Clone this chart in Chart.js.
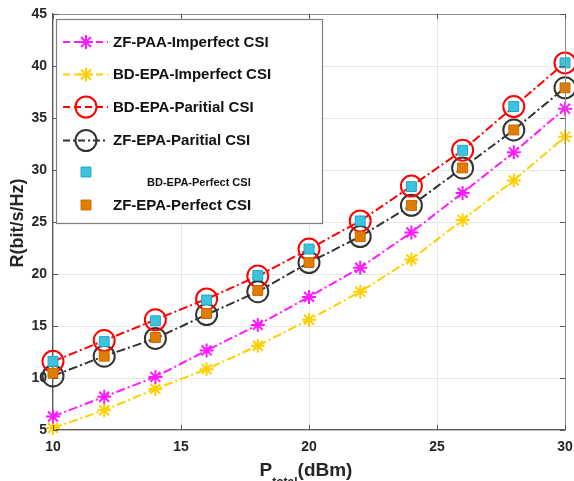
<!DOCTYPE html>
<html>
<head>
<meta charset="utf-8">
<script src="https://cdn.jsdelivr.net/npm/chart.js@4/dist/chart.umd.min.js"></script>
<style>
html,body{margin:0;padding:0;background:#fff;}
#wrap{position:relative;width:574px;height:481px;}
canvas{display:block;}
</style>
</head>
<body>
<div id="wrap"><canvas id="c" width="574" height="481"></canvas></div>
<script>
// ---- data ----
const powerDbm = [10, 12, 14, 16, 18, 20, 22, 24, 26, 28, 30];
const xTicks = [10, 15, 20, 25, 30];
const yTicks = [5, 10, 15, 20, 25, 30, 35, 40, 45];
const zfPaaImperfect = [6.3, 8.2, 10.1, 12.65, 15.1, 17.8, 20.6, 24.0, 27.8, 31.7, 35.9];
const bdEpaImperfect = [5.2, 6.9, 8.95, 10.85, 13.1, 15.6, 18.3, 21.4, 25.2, 29.0, 33.2];
const bdEpaPartial = [11.6, 13.6, 15.6, 17.6, 19.8, 22.4, 25.1, 28.45, 31.9, 36.1, 40.3];
const zfEpaPartial = [10.2, 12.1, 13.8, 16.1, 18.3, 21.1, 23.6, 26.6, 30.2, 33.85, 37.9];
const bdEpaPerfect = [11.6, 13.5, 15.5, 17.5, 19.85, 22.4, 25.1, 28.4, 31.9, 36.1, 40.3];
const zfEpaPerfect = [10.45, 12.1, 13.9, 16.2, 18.4, 21.1, 23.6, 26.6, 30.2, 33.85, 37.9];
const seriesNames = ['ZF-PAA-Imperfect CSI', 'BD-EPA-Imperfect CSI', 'BD-EPA-Paritial CSI',
  'ZF-EPA-Paritial CSI', 'BD-EPA-Perfect CSI', 'ZF-EPA-Perfect CSI'];

const pts = arr => arr.map((v, i) => ({x: powerDbm[i], y: v}));
const FONT = '"Liberation Sans", Arial, sans-serif';
const DASH = [9, 3, 2, 3];

const styles = [
  {color: '#ff1aff', pointStyle: 'star', radius: 7, bw: 2, fill: '#ff1aff', dash: DASH, line: true, order: 3},
  {color: '#ffd000', pointStyle: 'star', radius: 7, bw: 2, fill: '#ffd000', dash: DASH, line: true, order: 3},
  {color: '#ff0000', pointStyle: 'circle', radius: 10.5, bw: 2, fill: 'rgba(0,0,0,0)', dash: DASH, line: true, order: 2},
  {color: '#333333', pointStyle: 'circle', radius: 10.5, bw: 2, fill: 'rgba(0,0,0,0)', dash: DASH, line: true, order: 2},
  {color: '#1ea7c4', pointStyle: 'rect', radius: 7, bw: 1, fill: '#3ec3dc', dash: [], line: false, order: 1},
  {color: '#c96a00', pointStyle: 'rect', radius: 7, bw: 1, fill: '#e07c00', dash: [], line: false, order: 1}
];
const seriesData = [zfPaaImperfect, bdEpaImperfect, bdEpaPartial, zfEpaPartial, bdEpaPerfect, zfEpaPerfect];

const datasets = seriesData.map((d, i) => {
  const s = styles[i];
  return {
    label: seriesNames[i],
    data: pts(d),
    borderColor: s.color,
    backgroundColor: s.fill,
    borderWidth: 2,
    borderDash: s.dash,
    showLine: s.line,
    pointStyle: s.pointStyle,
    pointRadius: s.radius,
    pointBorderWidth: s.bw,
    pointBorderColor: s.color,
    pointBackgroundColor: s.fill,
    tension: 0,
    order: s.order,
    clip: false
  };
});

const extras = {
  id: 'extras',
  afterDatasetsDraw(chart) {
    const ctx = chart.ctx;
    const a = chart.chartArea;
    ctx.save();
    // top/right box lines
    ctx.strokeStyle = '#8c8c8c';
    ctx.lineWidth = 1;
    ctx.beginPath();
    ctx.moveTo(a.left, a.top + 0.5);
    ctx.lineTo(a.right + 0.5, a.top + 0.5);
    ctx.lineTo(a.right + 0.5, a.bottom);
    ctx.stroke();
    // inward ticks (MATLAB style)
    ctx.strokeStyle = '#555';
    const xs = chart.scales.x, ys = chart.scales.y;
    xTicks.forEach(t => {
      const px = Math.round(xs.getPixelForValue(t)) + 0.5;
      ctx.beginPath(); ctx.moveTo(px, a.bottom); ctx.lineTo(px, a.bottom - 5); ctx.stroke();
      ctx.beginPath(); ctx.moveTo(px, a.top); ctx.lineTo(px, a.top + 5); ctx.stroke();
    });
    yTicks.forEach(t => {
      const py = Math.round(ys.getPixelForValue(t)) + 0.5;
      ctx.beginPath(); ctx.moveTo(a.left, py); ctx.lineTo(a.left + 5, py); ctx.stroke();
      ctx.beginPath(); ctx.moveTo(a.right, py); ctx.lineTo(a.right - 5, py); ctx.stroke();
    });

    // legend box
    const L = 56.5, T = 19.5, R = 322.5, B = 223.5;
    ctx.fillStyle = '#ffffff';
    ctx.fillRect(L, T, R - L, B - T);
    ctx.strokeStyle = '#7f7f7f';
    ctx.lineWidth = 1.2;
    ctx.strokeRect(L, T, R - L, B - T);

    const rowsY = [42, 74.5, 107, 140.5, 172, 205];
    const mx = 86;
    for (let i = 0; i < 6; i++) {
      const s = styles[i];
      const y = rowsY[i];
      if (s.line) {
        ctx.save();
        ctx.strokeStyle = s.color;
        ctx.lineWidth = 2;
        ctx.setLineDash(i === 3 ? [7, 3, 2, 3] : [7, 4]);
        ctx.beginPath(); ctx.moveTo(63, y); ctx.lineTo(108, y); ctx.stroke();
        ctx.restore();
      }
      ctx.save();
      ctx.fillStyle = s.fill; ctx.strokeStyle = s.color; ctx.lineWidth = s.bw;
      ctx.setLineDash([]);
      ctx.beginPath();
      if (s.pointStyle === 'rect') {
        const h = s.radius * Math.SQRT1_2;
        ctx.rect(mx - h, y - h, 2 * h, 2 * h);
        ctx.fill(); ctx.stroke();
      } else if (s.pointStyle === 'circle') {
        ctx.arc(mx, y, s.radius, 0, Math.PI * 2);
        ctx.stroke();
      } else {
        const r = s.radius;
        ctx.moveTo(mx - r, y); ctx.lineTo(mx + r, y);
        ctx.moveTo(mx, y - r); ctx.lineTo(mx, y + r);
        const d = r * Math.SQRT1_2;
        ctx.moveTo(mx - d, y - d); ctx.lineTo(mx + d, y + d);
        ctx.moveTo(mx - d, y + d); ctx.lineTo(mx + d, y - d);
        ctx.stroke();
      }
      ctx.restore();
      ctx.fillStyle = '#111';
      ctx.textBaseline = 'middle';
      ctx.textAlign = 'left';
      if (i === 4) {
        ctx.font = 'bold 11px ' + FONT;
        ctx.fillText(seriesNames[i], 147, 183);
      } else {
        ctx.font = 'bold 15px ' + FONT;
        ctx.fillText(seriesNames[i], 113, y + 0.5);
      }
    }

    // y-axis title
    ctx.save();
    ctx.translate(18, 223);
    ctx.rotate(-Math.PI / 2);
    ctx.font = 'bold 18px ' + FONT;
    ctx.fillStyle = '#262626';
    ctx.textAlign = 'center';
    ctx.textBaseline = 'middle';
    ctx.fillText('R(bit/s/Hz)', 0, 0);
    ctx.restore();

    // x-axis title with subscript
    ctx.fillStyle = '#262626';
    ctx.textBaseline = 'alphabetic';
    ctx.textAlign = 'left';
    const big = 'bold 19px ' + FONT, small = 'bold 12px ' + FONT;
    ctx.font = big; const wP = ctx.measureText('P').width; const wD = ctx.measureText('(dBm)').width;
    ctx.font = small; const wT = ctx.measureText('total').width;
    let x0 = 306 - (wP + wT + wD) / 2;
    ctx.font = big; ctx.fillText('P', x0, 476);
    ctx.font = small; ctx.fillText('total', x0 + wP, 486);
    ctx.font = big; ctx.fillText('(dBm)', x0 + wP + wT, 476);
    ctx.restore();
  }
};

new Chart(document.getElementById('c'), {
  type: 'line',
  data: {datasets},
  plugins: [extras],
  options: {
    responsive: false,
    devicePixelRatio: 1,
    animation: false,
    layout: {autoPadding: false, padding: {left: 0, right: 0, top: 0, bottom: 0}},
    plugins: {legend: {display: false}, tooltip: {enabled: false}, title: {display: false}},
    scales: {
      x: {
        type: 'linear', min: 10, max: 30,
        afterFit(s) { s.height = 51; s.paddingRight = 9; s.paddingLeft = 0; },
        afterBuildTicks(s) { s.ticks = xTicks.map(v => ({value: v})); },
        grid: {color: '#e6e6e6', lineWidth: 1, drawTicks: false},
        border: {color: '#595959', width: 1.3},
        ticks: {padding: 9, color: '#262626', font: {family: FONT, size: 14, weight: 'bold'}, maxRotation: 0}
      },
      y: {
        type: 'linear', min: 5, max: 45,
        afterFit(s) { s.width = 53; s.paddingTop = 14; s.paddingBottom = 0; },
        afterBuildTicks(s) { s.ticks = yTicks.map(v => ({value: v})); },
        grid: {color: '#e6e6e6', lineWidth: 1, drawTicks: false},
        border: {color: '#595959', width: 1.3},
        ticks: {padding: 6, color: '#262626', font: {family: FONT, size: 14, weight: 'bold'}}
      }
    }
  }
});
</script>
</body>
</html>
